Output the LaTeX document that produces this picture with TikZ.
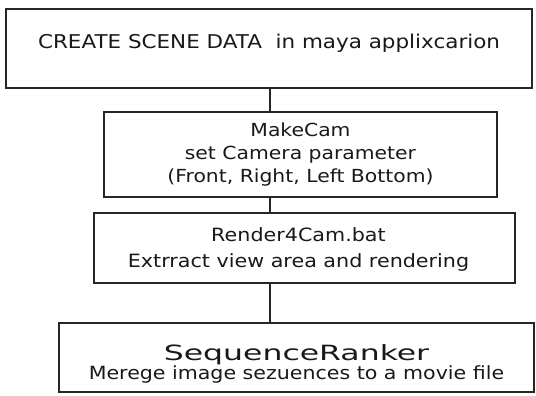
\documentclass[tikz,border=0pt]{standalone}
\usepackage{fontspec}
\setmainfont{DejaVu Sans}
\newfontfamily\flowfont[FakeStretch=1.13]{DejaVu Sans}
\newfontfamily\wideflowfont[FakeStretch=1.5]{DejaVu Sans}
\usetikzlibrary{positioning}

\begin{document}
\begin{tikzpicture}[x=1pt, y=-1pt,
    stage/.style={draw=black!85, line width=1.6pt, fill=white, inner sep=0pt},
    caption/.style={align=center, inner sep=0pt, text=black!90},
    link/.style={draw=black!85, line width=1.6pt}]

\useasboundingbox (0,0) rectangle (536,396);

% the four stages of the pipeline
\node[stage, minimum width=526pt, minimum height=79pt] (scene) at (269,48.5) {};
\node[stage, minimum width=393pt, minimum height=85pt] (makecam) at (300.5,154.5) {};
\node[stage, minimum width=421pt, minimum height=70pt] (render) at (304.5,248) {};
\node[stage, minimum width=475pt, minimum height=69pt] (ranker) at (296.5,357.5) {};

% texts
\node[caption, font=\flowfont\fontsize{19}{24}\selectfont] (scenetxt) at ([yshift=5pt]scene.center)
    {CREATE SCENE DATA\ \ in maya applixcarion};
\node[caption, font=\flowfont\fontsize{18}{23}\selectfont] (makecamtxt) at (makecam.center)
    {MakeCam\\set Camera parameter\\(Front, Right, Left Bottom)};
\node[caption, font=\flowfont\fontsize{18.3}{26}\selectfont] (rendertxt) at ([xshift=-6pt,yshift=-1pt]render.center)
    {Render4Cam.bat\\Extrract view area and rendering};
\node[caption, font=\wideflowfont\fontsize{21}{19}\selectfont] (rankertxt) at ([yshift=-6pt]ranker.center)
    {SequenceRanker\\{\flowfont\fontsize{18.2}{19}\selectfont Merege image sezuences to a movie file}};

% connectors
\draw[link] (scene.south -| 270,0) -- (makecam.north -| 270,0);
\draw[link] (makecam.south -| 270,0) -- (render.north -| 270,0);
\draw[link] (render.south -| 270,0) -- (ranker.north -| 270,0);

\end{tikzpicture}
\end{document}
